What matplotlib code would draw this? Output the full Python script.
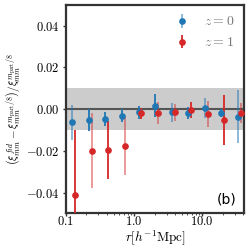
import matplotlib
matplotlib.use('Agg')
import matplotlib.pyplot as plt
import numpy as np
from matplotlib.ticker import FuncFormatter, FixedLocator, LogLocator, NullFormatter
from matplotlib.colors import to_rgba

plt.rcParams['mathtext.fontset'] = 'cm'

# separation bins (h^-1 Mpc)
r_z0 = [0.124, 0.217, 0.38, 0.66, 1.16, 2.03, 3.55, 6.2, 10.9, 19.0, 33.2]
r_z1 = [0.137, 0.24, 0.42, 0.73, 1.28, 2.25, 3.93, 6.9, 12.0, 21.0, 36.8]

# fractional difference and errors
frac_z0 = [-0.0064, -0.0053, -0.0048, -0.0032, -0.0016, 0.0016, -0.0016, -0.0019, 0.0003, -0.0019, -0.0036]
err_z0 = [0.0083, 0.0052, 0.0032, 0.0030, 0.0030, 0.0054, 0.0047, 0.0030, 0.0048, 0.0020, 0.0126]
frac_z1 = [-0.0414, -0.0200, -0.0196, -0.0178, -0.0021, -0.0018, -0.0016, -0.0003, -0.0024, -0.0053, -0.0019]
err_z1 = [0.0313, 0.0179, 0.0140, 0.0139, 0.0025, 0.0052, 0.0040, 0.0038, 0.0062, 0.0119, 0.0050]

labels = [r'$z=0$', r'$z=1$']

# error bar shading per point
bar_alpha_z0 = [0.55, 1, 1, 1, 1, 1, 0.55, 1, 0.55, 1, 0.55]
bar_alpha_z1 = [1, 0.5, 1, 0.5, 1, 0.5, 0.5, 1, 0.5, 1, 0.5]


def main():
    fig = plt.figure(figsize=(2.49, 2.49), dpi=100)
    ax = fig.add_axes([0.265, 0.143, 0.715, 0.838])

    ax.axhspan(-0.01, 0.01, color='#cccccc', zorder=0, lw=0)
    ax.axhline(0, color='#555555', lw=1.5, zorder=1)

    series = [(r_z0, frac_z0, err_z0, '#1f77b4', bar_alpha_z0),
              (r_z1, frac_z1, err_z1, '#d62728', bar_alpha_z1)]
    handles = []
    for (r, f, e, c, a), lab in zip(series, labels):
        eb = ax.errorbar(r, f, yerr=e, fmt='o', color=c, ms=3.8, elinewidth=1.3,
                         capsize=0, label=lab, zorder=3)
        eb[2][0].set_color([to_rgba(c, al) for al in a])
        handles.append(eb)

    ax.set_xscale('log')
    ax.set_xlim(0.1, 41)
    ax.set_ylim(-0.05, 0.05)
    ax.xaxis.set_major_locator(FixedLocator([0.1, 1.0, 10.0]))
    ax.xaxis.set_major_formatter(FuncFormatter(lambda v, p: r'$%.1f$' % v))
    ax.xaxis.set_minor_locator(LogLocator(base=10, subs=np.arange(2, 10)))
    ax.xaxis.set_minor_formatter(NullFormatter())
    ax.set_yticks([-0.04, -0.02, 0.0, 0.02, 0.04])
    ax.yaxis.set_major_formatter(FuncFormatter(lambda v, p: r'$%.2f$' % v))

    ax.tick_params(axis='both', which='major', labelsize=9, length=2.5, width=1,
                   color='#333333', pad=2)
    ax.tick_params(axis='x', which='major', pad=-1.5)
    ax.tick_params(axis='x', which='minor', length=1.5, width=0.6, color='#333333')
    for s in ax.spines.values():
        s.set_linewidth(1.6)
        s.set_color('#333333')

    ax.set_xlabel(r'$r[h^{-1}{\rm Mpc}]$', fontsize=9.5)
    ax.xaxis.set_label_coords(0.5, -0.072)
    ax.set_ylabel(r'$\left(\xi^{fid}_{mm}-\xi^{m_{\rm part}/8}_{mm}\right)/\xi^{m_{\rm part}/8}_{mm}$',
                  fontsize=8, labelpad=2.5)

    ax.legend(handles=handles, labels=labels, loc='upper right', frameon=False,
              fontsize=10, labelcolor='#777777', handlelength=1.6, handletextpad=0.8,
              borderaxespad=0.3)
    ax.text(0.955, 0.035, '(b)', transform=ax.transAxes, ha='right', va='bottom', fontsize=10)

    fig.savefig('out.png', dpi=100)


if __name__ == '__main__':
    main()
